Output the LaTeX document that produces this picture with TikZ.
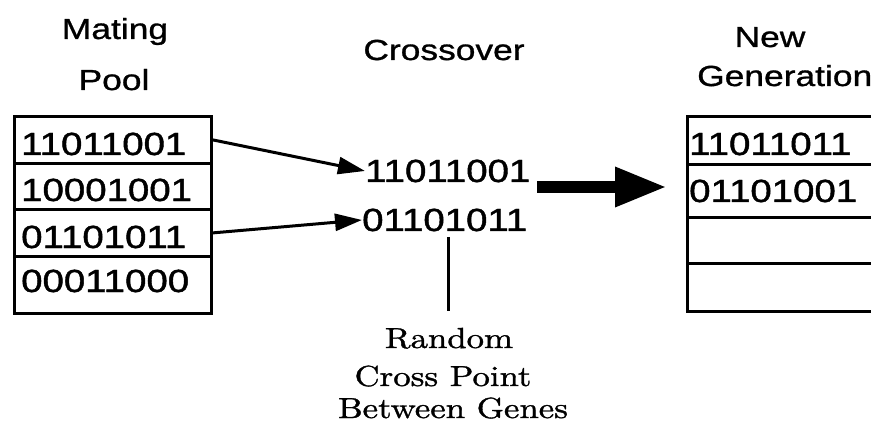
\documentclass[tikz,border=0pt]{standalone}
\usepackage{fontspec}
\usetikzlibrary{arrows.meta}
\newfontfamily\hfont[FakeStretch=1.2,FakeBold=1.3]{Liberation Sans}
\newfontfamily\tfont[FakeStretch=1.22,FakeBold=1.0]{Liberation Sans}
\newfontfamily\sfont[FakeStretch=1.2,FakeBold=1.2]{lmroman10-regular.otf}
\tikzset{
  cell/.style={draw, line width=2.8pt, anchor=north west, inner sep=0pt},
  bits/.style={font=\hfont\fontsize{32}{36}\selectfont, inner sep=0pt, anchor=base west},
  title/.style={font=\tfont\fontsize{29}{34}\selectfont, inner sep=0pt, anchor=base},
  serif/.style={font=\sfont\fontsize{29}{34}\selectfont, inner sep=0pt, anchor=base},
  thinarrow/.style={line width=3pt, -{Triangle[length=27pt,width=17pt]}},
  bigarrow/.style={line width=12pt, -{Triangle[length=52pt,width=37pt]}},
  gene/.style={line width=3pt}
}
\begin{document}
\begin{tikzpicture}[x=1pt,y=-1pt]
\useasboundingbox (0,0) rectangle (871,425);
\clip (0,0) rectangle (871,425);
\fill[white] (0,0) rectangle (871,425);
% titles
\node[title] (mating) at (115,39) {Mating};
\node[title] (pool) at (114,90) {Pool};
\node[title] (cross) at (444,60) {Crossover};
\node[title] (new) at (770,47) {New};
\node[title, anchor=base west] (gen) at (697,86) {Generation};
% mating pool
\node[cell, minimum width=197pt, minimum height=47pt] (l1) at (13,115) {};
\node[cell, minimum width=197pt, minimum height=46pt] (l2) at (13,162) {};
\node[cell, minimum width=197pt, minimum height=47pt] (l3) at (13,208) {};
\node[cell, minimum width=197pt, minimum height=57pt] (l4) at (13,255) {};
\node[bits] (t1) at (21,155) {11011001};
\node[bits] (t2) at (21,201) {10001001};
\node[bits] (t3) at (21,248) {01101011};
\node[bits] (t4) at (21,292) {00011000};
% crossover strings
\node[bits] (m1) at (365,182) {11011001};
\node[bits] (m2) at (362,231) {01101011};
\draw[thinarrow] (l1.east) -- (m1.west);
\draw[thinarrow] (l3.east) -- (m2.west);
% cross point
\coordinate (cptop) at (448,237);
\coordinate (cpbot) at (448,311);
\draw[gene] (cptop) -- (cpbot);
\node[serif] (s1) at (449,348) {Random};
\node[serif] (s2) at (443,386) {Cross Point};
\node[serif] (s3) at (453,418) {Between Genes};
% new generation
\node[cell, minimum width=220pt, minimum height=48pt] (r1) at (686,115) {};
\node[cell, minimum width=220pt, minimum height=53pt] (r2) at (686,163) {};
\node[cell, minimum width=220pt, minimum height=46pt] (r3) at (686,216) {};
\node[cell, minimum width=220pt, minimum height=48pt] (r4) at (686,262) {};
\node[bits] (n1) at (689,155) {11011011};
\node[bits] (n2) at (689,202) {01101001};
% big arrow
\coordinate (bs) at (537,187);
\coordinate (be) at (667,187);
\draw[bigarrow] (bs) -- (be);
\end{tikzpicture}
\end{document}
